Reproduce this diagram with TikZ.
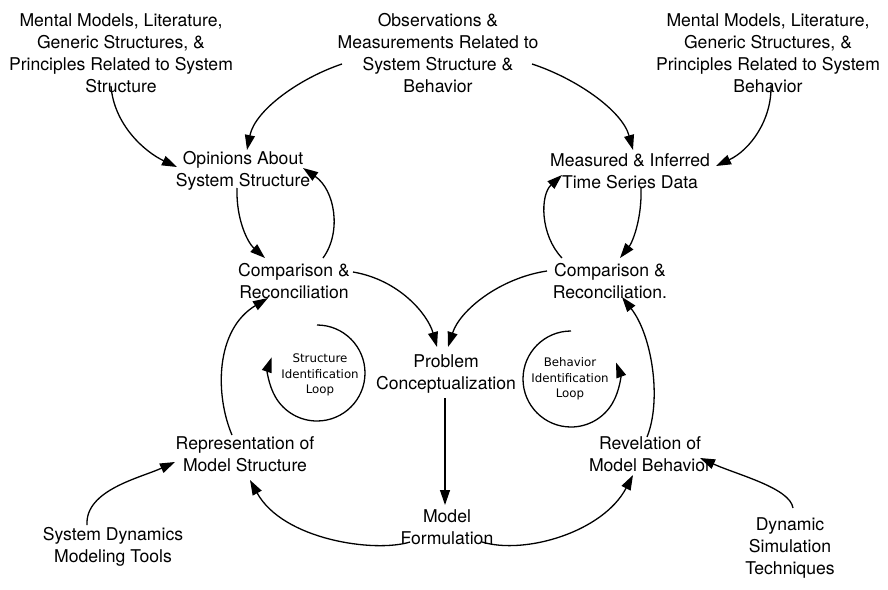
\documentclass[tikz,border=0pt]{standalone}
\usepackage{fontspec}
\setmainfont{TeX Gyre Heros}
\newfontfamily\loopfont{DejaVu Sans}
\usetikzlibrary{arrows.meta}
\begin{document}
\begin{tikzpicture}[x=1pt,y=-1pt,
  lbl/.style={align=center,inner sep=0pt,font=\fontsize{17.6}{22}\selectfont},
  looplbl/.style={align=center,inner sep=0pt,font=\loopfont\fontsize{11.8}{15.5}\selectfont},
  link/.style={line width=1.3pt,-{Triangle[length=15pt,width=10pt]}}]
\useasboundingbox (0,0) rectangle (888,589);

% text nodes
\node[lbl] (tl) at (121,53) {Mental Models, Literature,\\Generic Structures, \&\\Principles Related to System\\Structure};
\node[lbl] (obs) at (438,53) {Observations \&\\Measurements Related to\\System Structure \&\\Behavior};
\node[lbl] (tr) at (768,53) {Mental Models, Literature,\\Generic Structures, \&\\Principles Related to System\\Behavior};
\node[lbl] (opin) at (243,171) {Opinions About\\System Structure};
\node[lbl] (meas) at (630,171) {Measured \& Inferred\\Time Series Data};
\node[lbl] (cmpL) at (294,281) {Comparison \&\\Reconciliation};
\node[lbl] (cmpR) at (610,281) {Comparison \&\\Reconciliation.};
\node[lbl] (prob) at (446,374) {Problem\\Conceptualization};
\node[lbl] (rep) at (245,454) {Representation of\\Model Structure};
\node[lbl] (rev) at (650,454) {Revelation of\\Model Behavior};
\node[lbl] (form) at (447,527) {Model\\Formulation};
\node[lbl] (sdt) at (113,547) {System Dynamics\\Modeling Tools};
\node[lbl] (dst) at (790,548) {Dynamic\\Simulation\\Techniques};

% loop labels and their circular arrows
\node[looplbl] (sloop) at (320,375) {Structure\\Identification\\Loop};
\node[looplbl] (bloop) at (570,379) {Behavior\\Identification\\Loop};
\coordinate (sc) at (317,373);
\coordinate (bc) at (571,379);
\draw[link] ([shift={(0,-48)}]sc) arc[start angle=-90,end angle=199,radius=48];
\draw[link] ([shift={(0,-48)}]bc) arc[start angle=-90,end angle=-380,radius=48];

% influences from the sources
\draw[link] ([shift={(-10,33)}]tl.center) .. controls +(3,39) and +(-32,-15) .. ([shift={(-66,-4)}]opin.center);
\draw[link] ([shift={(-96,11)}]obs.center) .. controls +(-42,14) and +(8,-40) .. ([shift={(4,-21)}]opin.center);
\draw[link] ([shift={(94,11)}]obs.center) .. controls +(43,14) and +(-11,-40) .. ([shift={(3,-21)}]meas.center);
\draw[link] ([shift={(3,32)}]tr.center) .. controls +(1,35) and +(34,-16) .. ([shift={(86,-5)}]meas.center);

% upper comparison loops
\draw[link] ([shift={(-6,17)}]opin.center) .. controls +(-1,32) and +(-17,-15) .. ([shift={(-29,-23)}]cmpL.center);
\draw[link] ([shift={(29,-23)}]cmpL.center) .. controls +(19,-26) and +(32,22) .. ([shift={(60,-3)}]opin.center);
\draw[link] ([shift={(11,17)}]meas.center) .. controls +(1,32) and +(12,-15) .. ([shift={(10,-23)}]cmpR.center);
\draw[link] ([shift={(-48,-23)}]cmpR.center) .. controls +(-22,-23) and +(-22,20) .. ([shift={(-68,4)}]meas.center);

% into and out of the problem conceptualization
\draw[link] ([shift={(59,-9)}]cmpL.center) .. controls +(47,8) and +(-9,-32) .. ([shift={(-9,-27)}]prob.center);
\draw[link] ([shift={(-63,-10)}]cmpR.center) .. controls +(-47,7) and +(12,-37) .. ([shift={(2,-27)}]prob.center);
\draw[link] ([shift={(-1,24)}]prob.center) -- ([shift={(-2,-22)}]form.center);

% lower half
\draw[link] ([shift={(-37,15)}]form.center) .. controls +(-35,11) and +(33,60) .. ([shift={(5,26)}]rep.center);
\draw[link] ([shift={(35,15)}]form.center) .. controls +(43,13) and +(-30,57) .. ([shift={(-17,21)}]rev.center);
\draw[link] ([shift={(-13,-19)}]rep.center) .. controls +(-17,-40) and +(-53,32) .. ([shift={(-26,17)}]cmpL.center);
\draw[link] ([shift={(-3,-17)}]rev.center) .. controls +(15,-37) and +(30,38) .. ([shift={(12,16)}]cmpR.center);
\draw[link] ([shift={(-26,-22)}]sdt.center) .. controls +(-2,-35) and +(-35,16) .. ([shift={(-70,8)}]rep.center);
\draw[link] ([shift={(3,-40)}]dst.center) .. controls +(-3,-20) and +(38,17) .. ([shift={(50,4)}]rev.center);
\end{tikzpicture}
\end{document}
